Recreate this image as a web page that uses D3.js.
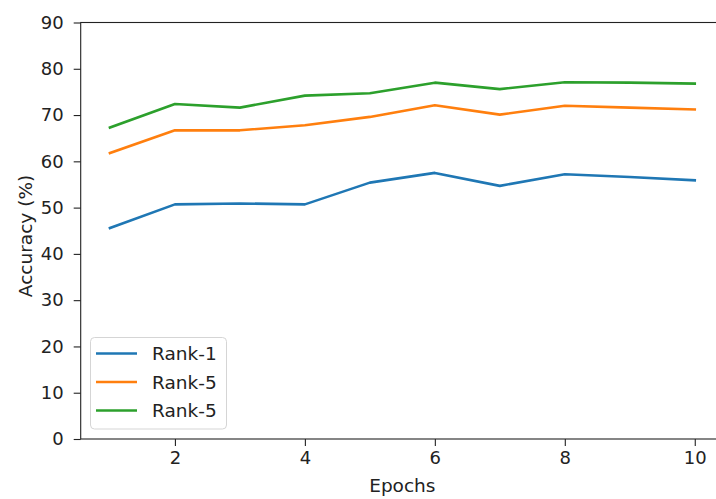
<!DOCTYPE html>
<html>
<head>
<meta charset="utf-8">
<script src="https://cdn.jsdelivr.net/npm/d3@7"></script>
<style>
  body { margin: 0; background: #fff; }
  svg { display: block; font-family: "DejaVu Sans", sans-serif; }
</style>
</head>
<body>
<svg width="716" height="499"></svg>
<script>
// data
const epochs = [1, 2, 3, 4, 5, 6, 7, 8, 9, 10];
const rank1 = [45.6, 50.7, 50.9, 50.7, 55.4, 57.5, 54.7, 57.2, 56.6, 55.9];
const rank5 = [61.8, 66.7, 66.7, 67.8, 69.6, 72.1, 70.1, 72.0, 71.6, 71.2];
const rank10 = [67.3, 72.4, 71.6, 74.2, 74.7, 77.0, 75.6, 77.1, 77.0, 76.8];
const seriesNames = ["Rank-1", "Rank-5", "Rank-5"];
const xTicks = [2, 4, 6, 8, 10];
const yTicks = [0, 10, 20, 30, 40, 50, 60, 70, 80, 90];

const colors = ["#1f77b4", "#ff7f0e", "#2ca02c"];
const textColor = "#222";
const fontSize = 18.5;

const svg = d3.select("svg");
// plot box (right spine falls just outside the picture, as in the reference)
const margin = { left: 80.7, top: 22.5, right: 724, bottom: 439 };

const x = d3.scaleLinear().domain([0.55, 10.45]).range([margin.left, margin.right]);
const y = d3.scaleLinear().domain([0, 90]).range([margin.bottom, margin.top]);

// lines
const series = [rank1, rank5, rank10];
const line = d3.line()
    .x((d, i) => x(epochs[i]))
    .y(d => y(d));

svg.append("g")
    .selectAll("path")
    .data(series)
    .join("path")
    .attr("d", d => line(d))
    .attr("fill", "none")
    .attr("stroke", (_d, i) => colors[i])
    .attr("stroke-width", 2.6)
    .attr("stroke-linejoin", "round")
    .attr("stroke-linecap", "square");

// axes
const xAxis = svg.append("g")
    .attr("transform", `translate(0,${margin.bottom})`)
    .call(d3.axisBottom(x).tickValues(xTicks).tickSize(7).tickPadding(5).tickSizeOuter(0));
const yAxis = svg.append("g")
    .attr("transform", `translate(${margin.left},0)`)
    .call(d3.axisLeft(y).tickValues(yTicks).tickSize(7).tickPadding(10).tickSizeOuter(0));

[xAxis, yAxis].forEach(g => {
    g.select(".domain").remove();
    g.selectAll("line").attr("stroke", textColor).attr("stroke-width", 1.1);
    g.selectAll("text").attr("fill", textColor).attr("font-size", 18)
        .attr("font-family", "DejaVu Sans");
});

// spines
svg.append("rect")
    .attr("x", margin.left)
    .attr("y", margin.top)
    .attr("width", margin.right - margin.left)
    .attr("height", margin.bottom - margin.top)
    .attr("fill", "none")
    .attr("stroke", textColor)
    .attr("stroke-width", 1.1);

// axis labels
svg.append("text")
    .attr("x", (margin.left + margin.right) / 2)
    .attr("y", 492)
    .attr("text-anchor", "middle")
    .attr("font-size", fontSize)
    .attr("fill", textColor)
    .text("Epochs");

svg.append("text")
    .attr("transform", `translate(32,236) rotate(-90)`)
    .attr("text-anchor", "middle")
    .attr("font-size", fontSize)
    .attr("fill", textColor)
    .text("Accuracy (%)");

// legend
const legend = svg.append("g");
legend.append("rect")
    .attr("x", 90.5)
    .attr("y", 337.5)
    .attr("width", 136)
    .attr("height", 91.5)
    .attr("rx", 4)
    .attr("fill", "#fff")
    .attr("fill-opacity", 0.8)
    .attr("stroke", "#d5d5d5")
    .attr("stroke-width", 1);

const rowY = [353.5, 382, 410.5];
legend.selectAll("line")
    .data(seriesNames)
    .join("line")
    .attr("x1", 96)
    .attr("x2", 137)
    .attr("y1", (_d, i) => rowY[i])
    .attr("y2", (_d, i) => rowY[i])
    .attr("stroke", (_d, i) => colors[i])
    .attr("stroke-width", 2.6);

legend.selectAll("text")
    .data(seriesNames)
    .join("text")
    .attr("x", 152)
    .attr("y", (_d, i) => rowY[i])
    .attr("dy", "0.36em")
    .attr("font-size", fontSize)
    .attr("fill", textColor)
    .text(d => d);
</script>
</body>
</html>
